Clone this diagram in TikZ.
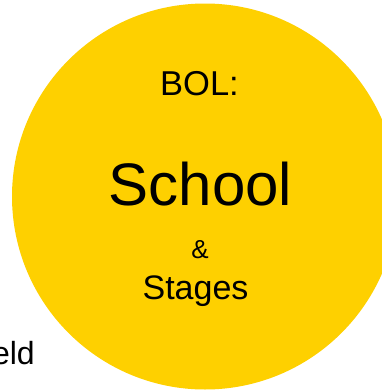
\documentclass[tikz,border=0pt]{standalone}
\usepackage{fontspec}
\setmainfont{Liberation Sans}
\usepackage{xcolor}
\definecolor{bolgold}{RGB}{254,208,0}
\usetikzlibrary{positioning}

\begin{document}
\begin{tikzpicture}[x=1bp,y=-1bp,
    txt/.style={inner sep=0pt,anchor=base,text=black}]
    \useasboundingbox (0,0) rectangle (382,391);
    % Disc
    \fill[bolgold] (205,196.5) circle (193);
    % Labels in the disc
    \node[txt,font=\fontsize{34.5bp}{40bp}\selectfont] (bol) at (199.5,95) {BOL:};
    \node[txt,font=\fontsize{60bp}{70bp}\selectfont] (school) at (200.5,205) {School};
    \node[txt,font=\fontsize{26bp}{30bp}\selectfont] (amp) at (200,258) {\&};
    \node[txt,font=\fontsize{34bp}{40bp}\selectfont] (stages) at (195.5,299) {Stages};
    % Cut-off word on the left
    \node[txt,anchor=base east,font=\fontsize{32bp}{38bp}\selectfont] (veld) at (35,364) {eld};
\end{tikzpicture}
\end{document}
